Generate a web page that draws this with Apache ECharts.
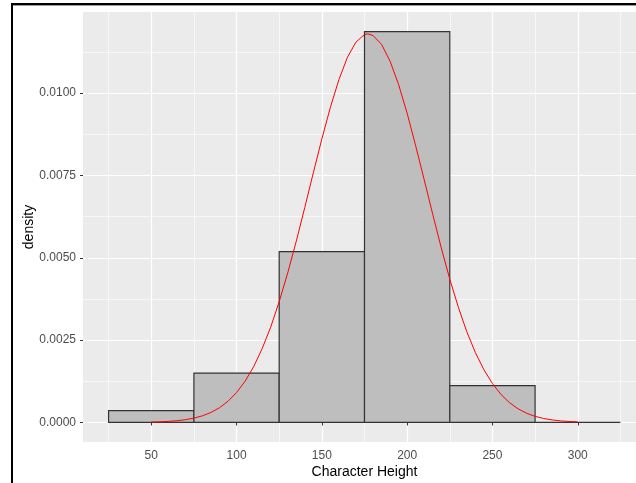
<!DOCTYPE html>
<html>
<head>
<meta charset="utf-8">
<script src="https://cdn.jsdelivr.net/npm/echarts@6/dist/echarts.min.js"></script>
<style>
  html, body { margin: 0; padding: 0; background: #ffffff; overflow: hidden; }
  #chart { width: 636px; height: 483px; }
</style>
</head>
<body>
<div id="chart"></div>
<script>
// Histogram bins (edges) and their densities
const binEdges = [25, 75, 125, 175, 225, 275, 325];
const binDensity = [0.00036, 0.0015, 0.00519, 0.01187, 0.00112, 0];

// Fitted normal density curve
const curveX = [50, 55, 60, 65, 70, 75, 80, 85, 90, 95, 100, 105, 110, 115, 120, 125,
  130, 135, 140, 145, 150, 155, 160, 165, 170, 175, 177, 180, 185, 190, 195, 200, 205,
  210, 215, 220, 225, 230, 235, 240, 245, 250, 255, 260, 265, 270, 275, 280, 285, 290,
  295, 300];
const curveY = [0.000011, 0.000019, 0.000032, 0.000052, 0.000083, 0.000131, 0.000201,
  0.000303, 0.000447, 0.000644, 0.000908, 0.00125, 0.00169, 0.00224, 0.00289, 0.00367,
  0.00454, 0.0055, 0.00653, 0.00758, 0.00861, 0.00957, 0.01041, 0.01109, 0.01155,
  0.01178, 0.0118, 0.01175, 0.01148, 0.01097, 0.01026, 0.00939, 0.0084, 0.00737,
  0.00632, 0.0053, 0.00435, 0.0035, 0.00275, 0.00212, 0.0016, 0.00118, 0.00085,
  0.0006, 0.000415, 0.00028, 0.000185, 0.00012, 0.000076, 0.000047, 0.000029, 0.000017];

// Axis ticks
const xTicks = [50, 100, 150, 200, 250, 300];
const xMinorTicks = [25, 75, 125, 175, 225, 275, 325];
const yTicks = [0, 0.0025, 0.005, 0.0075, 0.01];
const yMinorTicks = [0.00125, 0.00375, 0.00625, 0.00875, 0.01125];
const yTickLabels = ['0.0000', '0.0025', '0.0050', '0.0075', '0.0100'];

// Axis limits with 5% padding on each side
const xMin = 10, xMax = 340;
const yMin = -0.000594, yMax = 0.012464;

const FONT = '"Liberation Sans", Arial, sans-serif';

const histData = binDensity.map((d, i) => [binEdges[i], binEdges[i + 1], d]);
const curveData = curveX.map((x, i) => [x, curveY[i]]);

const chart = echarts.init(document.getElementById('chart'), null, { renderer: 'canvas' });

const majorAxis = {
  type: 'value',
  axisLine: { show: false },
  axisTick: { show: true, length: 3, lineStyle: { color: '#333333', width: 1 } },
  splitLine: { show: true, lineStyle: { color: '#ffffff', width: 1.2 } },
  minorSplitLine: { show: false }
};
const minorAxis = {
  type: 'value',
  axisLine: { show: false },
  axisLabel: { show: false },
  axisTick: { show: false },
  splitLine: { show: true, lineStyle: { color: '#ffffff', width: 0.6 } }
};

chart.setOption({
  animation: false,
  backgroundColor: '#ffffff',
  grid: {
    left: 83, top: 12, width: 563, height: 430,
    show: true, backgroundColor: '#EBEBEB', borderWidth: 0,
    containLabel: false, outerBoundsMode: 'none'
  },
  xAxis: [
    Object.assign({}, majorAxis, {
      min: xMin, max: xMax,
      axisTick: Object.assign({}, majorAxis.axisTick, { customValues: xTicks }),
      axisLabel: {
        customValues: xTicks, color: '#4D4D4D', fontSize: 12, fontFamily: FONT, margin: 8
      },
      name: 'Character Height',
      nameLocation: 'middle',
      nameGap: 23,
      nameMoveOverlap: false,
      nameTextStyle: { color: '#000000', fontSize: 14, fontFamily: FONT }
    }),
    Object.assign({}, minorAxis, {
      min: xMin, max: xMax, position: 'bottom',
      axisTick: { show: false, customValues: xMinorTicks }
    })
  ],
  yAxis: [
    Object.assign({}, majorAxis, {
      min: yMin, max: yMax,
      axisTick: Object.assign({}, majorAxis.axisTick, { customValues: yTicks }),
      axisLabel: {
        customValues: yTicks, color: '#4D4D4D', fontSize: 12, fontFamily: FONT, margin: 7,
        formatter: (v) => {
          const i = yTicks.findIndex(t => Math.abs(t - v) < 1e-9);
          return i >= 0 ? yTickLabels[i] : '';
        }
      },
      name: 'density',
      nameLocation: 'middle',
      nameGap: 47,
      nameRotate: 90,
      nameMoveOverlap: false,
      nameTextStyle: { color: '#000000', fontSize: 14, fontFamily: FONT }
    }),
    Object.assign({}, minorAxis, {
      min: yMin, max: yMax, position: 'left',
      axisTick: { show: false, customValues: yMinorTicks }
    })
  ],
  series: [
    {
      type: 'custom',
      xAxisIndex: 0, yAxisIndex: 0,
      z: 3,
      encode: { x: [0, 1], y: 2 },
      data: histData,
      renderItem: (params, api) => {
        const topLeft = api.coord([api.value(0), api.value(2)]);
        const bottomRight = api.coord([api.value(1), 0]);
        return {
          type: 'rect',
          shape: {
            x: topLeft[0], y: topLeft[1],
            width: bottomRight[0] - topLeft[0],
            height: bottomRight[1] - topLeft[1]
          },
          style: { fill: '#BEBEBE', stroke: '#333333', lineWidth: 1.2 }
        };
      }
    },
    {
      type: 'line',
      xAxisIndex: 0, yAxisIndex: 0,
      z: 4,
      data: curveData,
      showSymbol: false,
      smooth: false,
      lineStyle: { color: '#FF0000', width: 1 },
      itemStyle: { color: '#FF0000' }
    }
  ],
  graphic: [
    // window frame along the top and left edges
    { type: 'rect', shape: { x: 11, y: 3, width: 625, height: 2 }, style: { fill: '#000000' }, z: 100 },
    { type: 'rect', shape: { x: 13, y: 5, width: 623, height: 1 }, style: { fill: '#9a9a9a' }, z: 100 },
    { type: 'rect', shape: { x: 11, y: 3, width: 2, height: 480 }, style: { fill: '#000000' }, z: 100 }
  ]
});
</script>
</body>
</html>
